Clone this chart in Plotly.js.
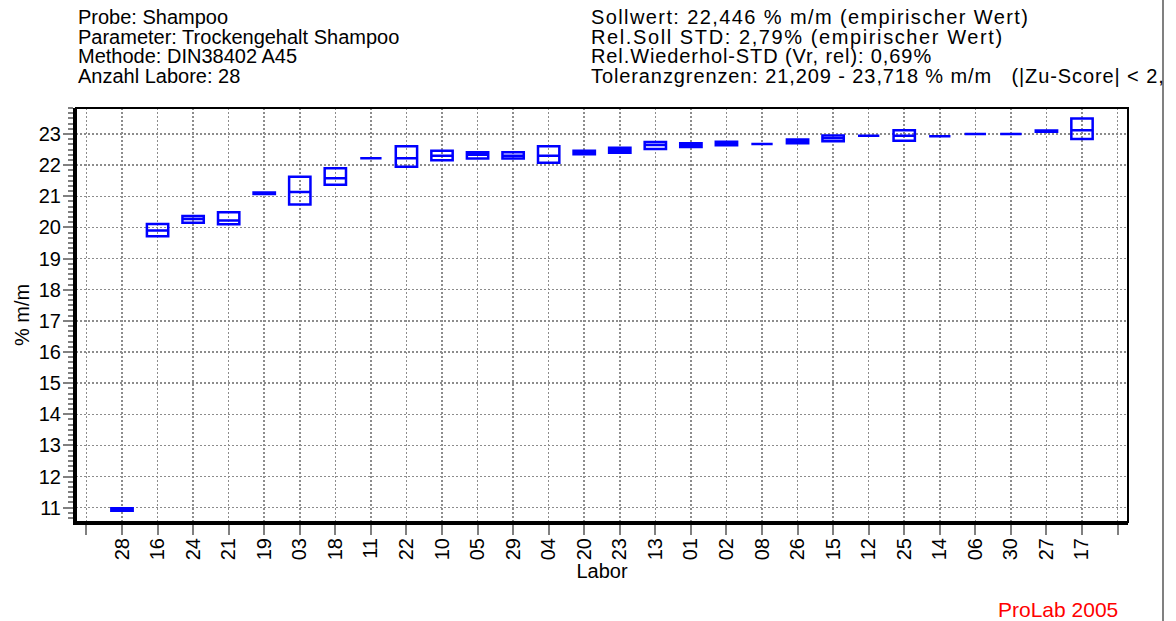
<!DOCTYPE html>
<html>
<head>
<meta charset="utf-8">
<script src="https://cdn.plot.ly/plotly-3.0.1.min.js"></script>
<style>
  html, body { margin: 0; padding: 0; background: #ffffff; }
  #chart { width: 1176px; height: 621px; }
  /* the right-hand header block is set a little wider */
  #chart g.annotation[data-index="4"] text { letter-spacing: 1.4px; }
  #chart g.annotation[data-index="5"] text { letter-spacing: 1.6px; }
  #chart g.annotation[data-index="6"] text { letter-spacing: 0.9px; }
  #chart g.annotation[data-index="7"] text { letter-spacing: 0.9px; }
</style>
</head>
<body>
<div id="chart"></div>
<script>
// Laboratories in ranked order along the x axis
const labs = ['28','16','24','21','19','03','18','11','22','10','05','29','04','20',
              '23','13','01','02','08','26','15','12','25','14','06','30','27','17'];

// Box statistics per laboratory (% m/m)
const q1Values     = [10.90, 19.72, 20.15, 20.10, 21.07, 20.74, 21.37, 22.22, 21.95, 22.16, 22.21, 22.21, 22.08, 22.35,
                      22.40, 22.52, 22.58, 22.64, 22.68, 22.70, 22.77, 22.94, 22.78, 22.93, 23.00, 23.00, 23.07, 22.84];
const medianValues = [10.94, 19.90, 20.27, 20.22, 21.09, 21.14, 21.58, 22.22, 22.22, 22.30, 22.33, 22.30, 22.30, 22.41,
                      22.48, 22.65, 22.65, 22.69, 22.68, 22.76, 22.86, 22.94, 22.94, 22.93, 23.00, 23.00, 23.09, 23.12];
const q3Values     = [10.98, 20.11, 20.37, 20.49, 21.12, 21.63, 21.90, 22.22, 22.61, 22.46, 22.41, 22.41, 22.61, 22.46,
                      22.56, 22.74, 22.70, 22.75, 22.68, 22.82, 22.95, 22.94, 23.12, 22.93, 23.00, 23.00, 23.11, 23.50];

// Header lines
const headerLeft = [
  'Probe: Shampoo',
  'Parameter: Trockengehalt Shampoo',
  'Methode: DIN38402 A45',
  'Anzahl Labore: 28'
];
const headerRight = [
  'Sollwert: 22,446 % m/m (empirischer Wert)',
  'Rel.Soll STD: 2,79% (empirischer Wert)',
  'Rel.Wiederhol-STD (Vr, rel): 0,69%',
  'Toleranzgrenzen: 21,209 - 23,718 % m/m   (|Zu-Score| < 2,'
];
const footer = 'ProLab 2005';
const xTitle = 'Labor';
const yTitle = '% m/m';

// ---- geometry of the figure ----
const W = 1176, H = 621;
const M = { l: 76, r: 48, t: 108, b: 99 };
const plotW = W - M.l - M.r, plotH = H - M.t - M.b;
const px2x = px => (px - M.l) / plotW;
const px2y = py => (H - M.b - py) / plotH;

const FONT = 'Liberation Sans, Arial, Helvetica, sans-serif';
const positions = labs.map((_, i) => i + 1);

const trace = {
  type: 'box',
  x: positions,
  q1: q1Values,
  median: medianValues,
  q3: q3Values,
  lowerfence: q1Values,
  upperfence: q3Values,
  width: 0.6,
  whiskerwidth: 0,
  boxpoints: false,
  fillcolor: 'rgba(255,255,255,0)',
  line: { color: '#0000ff', width: 2.5 },
  hoverinfo: 'skip',
  showlegend: false
};

const tickPositions = [0].concat(positions, [labs.length + 1]);
const tickLabels = [''].concat(labs, ['']);

const annotations = [];
const rowY = [17, 37, 56, 76];
headerLeft.forEach((t, i) => annotations.push({
  xref: 'paper', yref: 'paper', x: px2x(76), y: px2y(rowY[i]),
  xanchor: 'left', yanchor: 'middle', align: 'left', text: t, showarrow: false,
  font: { family: FONT, size: 20, color: '#000000' }
}));
headerRight.forEach((t, i) => annotations.push({
  xref: 'paper', yref: 'paper', x: px2x(589), y: px2y(rowY[i]),
  xanchor: 'left', yanchor: 'middle', align: 'left', text: t, showarrow: false,
  font: { family: FONT, size: 20, color: '#000000' }
}));
annotations.push({
  xref: 'paper', yref: 'paper', x: px2x(1120), y: px2y(609),
  xanchor: 'right', yanchor: 'middle', text: footer, showarrow: false,
  font: { family: FONT, size: 21, color: '#ff0000' }
});

const gridDash = '2px,2px';
const layout = {
  width: W, height: H,
  margin: M,
  paper_bgcolor: '#ffffff',
  plot_bgcolor: '#ffffff',
  font: { family: FONT, size: 20, color: '#000000' },
  xaxis: {
    type: 'linear',
    range: [-0.294, 29.294],
    tickmode: 'array',
    tickvals: tickPositions,
    ticktext: tickLabels,
    tickangle: -90,
    ticks: 'outside', ticklen: 10, tickwidth: 2, tickcolor: '#808080',
    ticklabelstandoff: -5,
    showgrid: true, gridcolor: '#8c8c8c', gridwidth: 1.5, griddash: gridDash,
    zeroline: false,
    showline: true, linecolor: '#000000', linewidth: 3,
    tickfont: { family: FONT, size: 20 },
    title: { text: xTitle, standoff: 2, font: { family: FONT, size: 20 } }
  },
  yaxis: {
    range: [10.54, 23.835],
    tick0: 0, dtick: 1,
    ticks: 'outside', ticklen: 10, tickwidth: 2, tickcolor: '#808080',
    ticklabelstandoff: -2,
    minor: { dtick: 1 / 6, ticks: 'outside', ticklen: 5, tickwidth: 2, tickcolor: '#808080', showgrid: false },
    showgrid: true, gridcolor: '#8c8c8c', gridwidth: 1.5, griddash: gridDash,
    zeroline: false,
    showline: true, linecolor: '#000000', linewidth: 3,
    tickfont: { family: FONT, size: 20 },
    title: { text: yTitle, standoff: 4, font: { family: FONT, size: 20 } }
  },
  shapes: [
    // frame around the plotting area
    { type: 'rect', xref: 'paper', yref: 'paper', x0: 0, x1: 1, y0: 0, y1: 1,
      line: { color: '#000000', width: 2 }, layer: 'above' },
    // page border on the right
    { type: 'line', xref: 'paper', yref: 'paper', x0: px2x(1163), x1: px2x(1163),
      y0: px2y(0), y1: px2y(H), line: { color: '#808080', width: 2 } }
  ],
  annotations: annotations
};

Plotly.newPlot('chart', [trace], layout, { displayModeBar: false, staticPlot: true });
</script>
</body>
</html>
